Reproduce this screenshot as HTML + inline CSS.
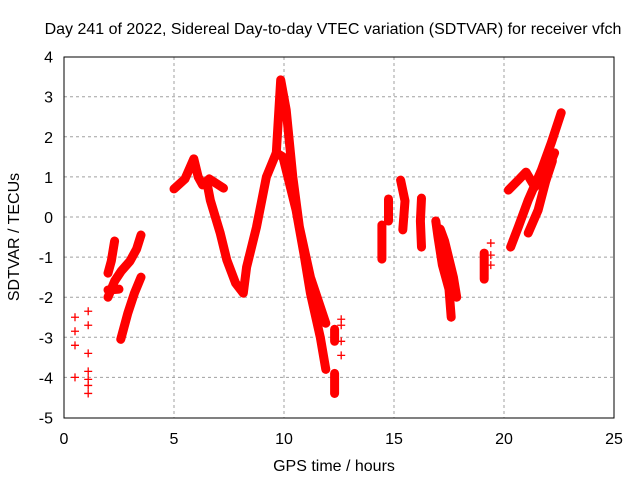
<!DOCTYPE html>
<html><head><meta charset="utf-8"><style>
body{margin:0;background:#fff;font-family:"Liberation Sans",sans-serif;}
svg text{font-family:"Liberation Sans",sans-serif;font-size:16px;fill:#000;}
</style></head><body>
<svg id="chart" width="640" height="480" xmlns="http://www.w3.org/2000/svg">
<text x="333" y="34" text-anchor="middle">Day 241 of 2022, Sidereal Day-to-day VTEC variation (SDTVAR) for receiver vfch</text>
<text x="334" y="471" text-anchor="middle">GPS time / hours</text>
<text transform="translate(19,237) rotate(-90)" text-anchor="middle">SDTVAR / TECUs</text>
<g id="grid"></g><g id="ticks"></g><g id="marks"></g>
<rect x="64" y="57" width="550" height="361" fill="none" stroke="#000" stroke-width="1"/>
</svg>
<script>
const xTicks=[0,5,10,15,20,25];
const yTicks=[-5,-4,-3,-2,-1,0,1,2,3,4];
const tracks=[
 [[2.0,-2.0],[2.3,-1.6],[2.6,-1.35],[3.0,-1.1],[3.3,-0.8],[3.5,-0.45]],
 [[2.0,-1.4],[2.15,-1.1],[2.3,-0.6]],
 [[2.0,-1.82],[2.5,-1.8]],
 [[2.58,-3.05],[2.9,-2.4],[3.2,-1.9],[3.5,-1.5]],
 [[5.0,0.7],[5.5,0.95],[5.9,1.45],[6.1,1.0],[6.3,0.8],[6.6,0.95],[7.25,0.72]],
 [[6.5,0.85],[6.65,0.42],[7.1,-0.4],[7.4,-1.07],[7.8,-1.65],[8.15,-1.9],[8.3,-1.25],[8.75,-0.25],[9.2,1.0],[9.65,1.6],[9.85,3.42],[10.1,2.67],[10.4,1.0],[10.7,-0.25],[11.2,-1.5],[11.9,-2.65]],
 [[9.65,1.6],[9.95,1.5],[10.55,0.17],[10.9,-0.9],[11.2,-1.9],[11.65,-3.0],[11.9,-3.8]],
 [[12.3,-2.8],[12.3,-3.1]],[[12.3,-3.9],[12.3,-4.4]],
 [[14.45,-0.2],[14.45,-1.05]],
 [[14.75,0.45],[14.75,-0.1]],
 [[15.3,0.92],[15.5,0.4],[15.4,-0.32]],
 [[16.25,0.47],[16.2,-0.1],[16.25,-0.75]],
 [[16.9,-0.1],[17.0,-0.5],[17.2,-1.2],[17.5,-1.8],[17.6,-2.5]],
 [[17.1,-0.3],[17.3,-0.6],[17.7,-1.5],[17.85,-2.0]],
 [[19.1,-0.9],[19.1,-1.55]],
 [[20.3,-0.75],[20.65,-0.25],[21.1,0.42],[21.7,1.17],[22.15,1.85],[22.6,2.6]],
 [[20.2,0.67],[20.65,0.92],[21.0,1.12],[21.4,0.75],[21.85,1.0],[22.3,1.6]],
 [[21.1,-0.4],[21.55,0.17],[21.9,0.9],[22.2,1.4]]
];
const sparse=[[0.5,-2.5],[0.5,-2.85],[0.5,-3.2],[0.5,-4.0],[1.1,-2.35],[1.1,-2.7],[1.1,-3.4],[1.1,-3.85],[1.1,-4.05],[1.1,-4.2],[1.1,-4.4],[12.6,-2.55],[12.6,-2.7],[12.6,-3.1],[12.6,-3.45],[19.4,-0.65],[19.4,-0.95],[19.4,-1.2]];
const X=h=>64+22*h, Y=v=>217-40.1*v;
const NS='http://www.w3.org/2000/svg';
const g=document.getElementById('grid'),t=document.getElementById('ticks'),m=document.getElementById('marks');
function mk(tag,at,p){const e=document.createElementNS(NS,tag);for(const k in at)e.setAttribute(k,at[k]);p.appendChild(e);return e;}
xTicks.forEach(v=>{
 if(v>0&&v<25){const l=mk('line',{x1:X(v),x2:X(v),y1:57,y2:418,stroke:'#a0a0a0','stroke-dasharray':'3,3'},g);
 
 }
 const tx=mk('text',{x:X(v),y:444,'text-anchor':'middle'},t);tx.textContent=v;
 
 
});
yTicks.forEach(v=>{
 if(v>-5&&v<4){const l=mk('line',{x1:64,x2:614,y1:Y(v),y2:Y(v),stroke:'#a0a0a0','stroke-dasharray':'3,3'},g);
 
 }
 const tx=mk('text',{x:53,y:Y(v)+6,'text-anchor':'end'},t);tx.textContent=v;
 
 
});
tracks.forEach(tr=>{
 const p=mk('path',{d:tr.map((q,i)=>(i?'L':'M')+X(q[0])+','+Y(q[1])).join(''),fill:'none',stroke:'#f00','stroke-width':9,'stroke-linejoin':'round','stroke-linecap':'round'},m);
 
 
});
function plus(q){const x=X(q[0]),y=Y(q[1]);
 const p=mk('path',{d:`M${x-4},${y}h8M${x},${y-4}v8`,stroke:'#f00','stroke-width':1.3},m);
 
 }
sparse.forEach(plus);
tracks.forEach(tr=>tr.forEach(plus));
</script>
</body></html>
